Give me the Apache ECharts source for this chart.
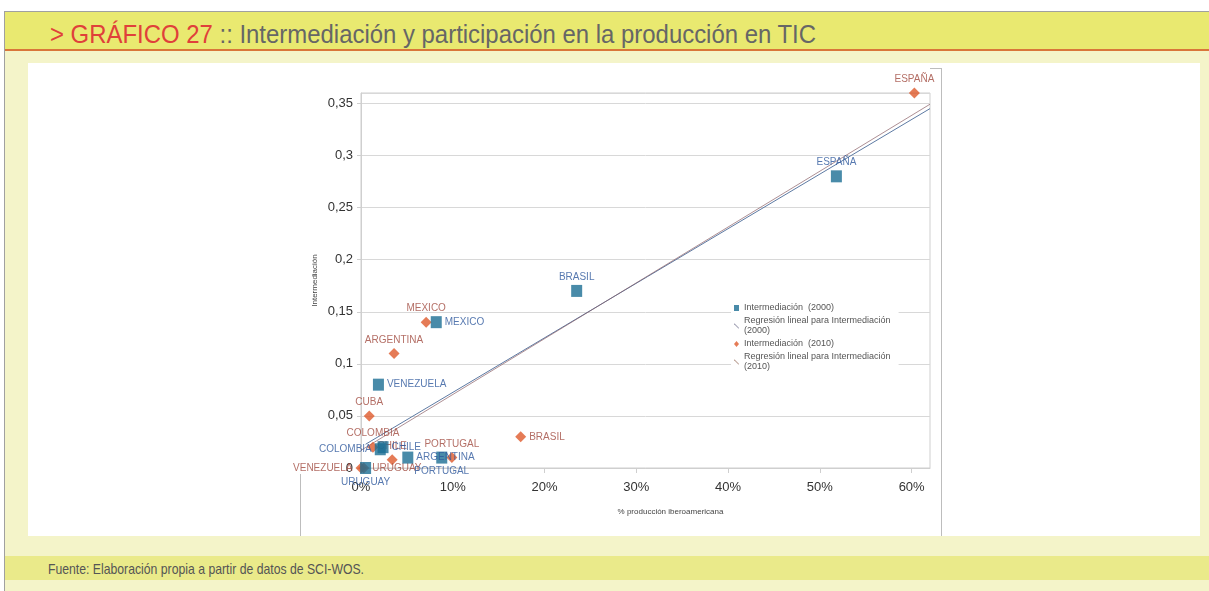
<!DOCTYPE html>
<html>
<head>
<meta charset="utf-8">
<script src="https://cdn.jsdelivr.net/npm/echarts@6/dist/echarts.min.js"></script>
<style>
  body { margin: 0; background: #fff; width: 1209px; height: 591px; overflow: hidden; position: relative; font-family: 'Liberation Sans', sans-serif; }
  .topline { position: absolute; left: 4px; top: 11px; width: 1205px; height: 1px; background: #a0a0a0; }
  .leftline { position: absolute; left: 4px; top: 11px; width: 1px; height: 580px; background: #a0a0a0; }
  .titlebar { position: absolute; left: 5px; top: 12px; width: 1204px; height: 37px; background: #e9e970; border-bottom: 2px solid #d9763a; }
  .titlebar span.t { position: absolute; left: 45px; top: 7px; font-size: 26px; line-height: 30px; color: #666; white-space: nowrap; transform: scaleX(0.92); transform-origin: 0 0; }
  .titlebar .red { color: #e0403a; }
  .content { position: absolute; left: 5px; top: 51px; width: 1204px; height: 540px; background: #f4f4c9; }
  .panel { position: absolute; left: 28px; top: 63px; width: 1172px; height: 473px; background: #fff; }
  .footer { position: absolute; left: 5px; top: 556px; width: 1204px; height: 24px; background: #eaea8a; }
  .footer span { position: absolute; left: 43px; top: 4px; font-size: 15px; line-height: 17px; color: #555; white-space: nowrap; transform: scaleX(0.815); transform-origin: 0 0; }
  #chart { position: absolute; left: 0; top: 0; width: 1209px; height: 591px; }
</style>
</head>
<body>
<div class="content"></div>
<div class="panel"></div>
<div class="titlebar"><span class="t"><span class="red">&gt; GRÁFICO 27</span> :: Intermediación y participación en la producción en TIC</span></div>
<div class="footer"><span>Fuente: Elaboración propia a partir de datos de SCI-WOS.</span></div>
<div class="topline"></div>
<div class="leftline"></div>
<div id="chart"></div>
<script>
// Intermediación (2000)
const paises2000 = ['ESPAÑA', 'BRASIL', 'MEXICO', 'VENEZUELA', 'CHILE', 'COLOMBIA', 'ARGENTINA', 'PORTUGAL', 'URUGUAY'];
const produccion2000 = [0.518, 0.235, 0.082, 0.019, 0.024, 0.021, 0.051, 0.088, 0.005];
const intermediacion2000 = [0.28, 0.17, 0.14, 0.08, 0.02, 0.018, 0.01, 0.01, 0];
const etiquetas2000 = ['top', 'top', 'right', 'right', 'right', 'left', 'right', 'bottom', 'bottom'];

// Intermediación (2010)
const paises2010 = ['ESPAÑA', 'BRASIL', 'MEXICO', 'ARGENTINA', 'CUBA', 'COLOMBIA', 'CHILE', 'PORTUGAL', 'VENEZUELA', 'URUGUAY'];
const produccion2010 = [0.603, 0.174, 0.071, 0.036, 0.009, 0.013, 0.034, 0.099, 0.0, 0.003];
const intermediacion2010 = [0.36, 0.03, 0.14, 0.11, 0.05, 0.02, 0.008, 0.01, 0, 0];
const etiquetas2010 = ['top', 'right', 'top', 'top', 'top', 'top', 'top', 'top', 'left', 'right'];

const xMax = 0.62;
const yMax = 0.36;

// recta de mínimos cuadrados
const regresion = (xs, ys) => {
    const n = xs.length;
    const mx = xs.reduce((a, b) => a + b, 0) / n;
    const my = ys.reduce((a, b) => a + b, 0) / n;
    let sxy = 0, sxx = 0;
    xs.forEach((x, i) => { sxy += (x - mx) * (ys[i] - my); sxx += (x - mx) * (x - mx); });
    const b = sxy / sxx, a = my - b * mx;
    const x0 = Math.min(...xs);
    return [[x0, a + b * x0], [xMax, a + b * xMax]];
};

const puntos = (nombres, xs, ys, pos) => nombres.map((n, i) => ({
    name: n,
    value: [xs[i], ys[i]],
    label: {position: pos[i]}
}));

const chart = echarts.init(document.getElementById('chart'));

const labelBase = {show: true, formatter: '{b}', fontSize: 10, fontFamily: 'Liberation Sans', distance: 3};
const iconoRecta = 'path://M0,0L1.5,0L10,8.5L10,10L8.5,10L0,1.5Z';

const option = {
    animation: false,
    grid: {
        left: 361, right: 279, top: 93, bottom: 123,
        show: true, borderColor: '#cfcfcf', borderWidth: 1, backgroundColor: 'transparent'
    },
    xAxis: {
        type: 'value', min: 0, max: xMax, interval: 0.1,
        name: '% producción iberoamericana', nameLocation: 'middle', nameGap: 40,
        nameTextStyle: {fontSize: 8, color: '#444', padding: [0, 0, 0, 50], fontFamily: 'Liberation Sans'},
        axisLine: {show: true, lineStyle: {color: '#cfcfcf'}},
        axisTick: {show: true, length: 5, lineStyle: {color: '#cfcfcf'}},
        axisLabel: {
            fontSize: 13, color: '#333', margin: 13, fontFamily: 'Liberation Sans', showMaxLabel: false,
            formatter: v => Math.round(v * 100) + '%'
        },
        splitLine: {show: false}
    },
    yAxis: {
        type: 'value', min: 0, max: yMax, interval: 0.05,
        name: 'Intermediación', nameLocation: 'middle', nameGap: 42, nameRotate: 90,
        nameTextStyle: {fontSize: 8, color: '#444', fontFamily: 'Liberation Sans'},
        axisLine: {show: true, lineStyle: {color: '#cfcfcf'}},
        axisTick: {show: true, length: 4, lineStyle: {color: '#cfcfcf'}},
        axisLabel: {
            fontSize: 13, color: '#333', margin: 8, fontFamily: 'Liberation Sans', showMaxLabel: false,
            formatter: v => String(+v.toFixed(2)).replace('.', ',')
        },
        splitLine: {show: true, lineStyle: {color: '#d8d8d8'}}
    },
    legend: {
        orient: 'vertical', left: 731, top: 300, itemGap: 3, itemWidth: 5, itemHeight: 6,
        backgroundColor: '#fff', padding: [3, 8, 3, 3],
        textStyle: {fontSize: 9, color: '#555', lineHeight: 10, fontFamily: 'Liberation Sans'},
        data: [
            {name: 'Intermediación  (2000)', icon: 'rect'},
            {name: 'Regresión lineal para Intermediación\n(2000)', icon: iconoRecta},
            {name: 'Intermediación  (2010)', icon: 'diamond'},
            {name: 'Regresión lineal para Intermediación\n(2010)', icon: iconoRecta}
        ]
    },
    series: [
        {
            name: 'Regresión lineal para Intermediación\n(2000)', type: 'line',
            data: regresion(produccion2000, intermediacion2000),
            symbol: 'none', color: '#a9a9bb', lineStyle: {color: '#5d7aa3', width: 1}, z: 1
        },
        {
            name: 'Regresión lineal para Intermediación\n(2010)', type: 'line',
            data: regresion(produccion2010, intermediacion2010),
            symbol: 'none', color: '#c2aaa0', lineStyle: {color: '#8a5f66', width: 1, opacity: 0.7}, z: 1
        },
        {
            name: 'Intermediación  (2010)', type: 'scatter',
            data: puntos(paises2010, produccion2010, intermediacion2010, etiquetas2010),
            symbol: 'diamond', symbolSize: 11, itemStyle: {color: '#df5a2c'},
            label: Object.assign({}, labelBase, {color: '#a04a3e'}), z: 3
        },
        {
            name: 'Intermediación  (2000)', type: 'scatter',
            data: puntos(paises2000, produccion2000, intermediacion2000, etiquetas2000),
            symbol: 'rect', symbolSize: [11, 12], itemStyle: {color: '#1c6e93'},
            label: Object.assign({}, labelBase, {color: '#2d579c'}), z: 4
        }
    ],
    graphic: [
        {type: 'line', shape: {x1: 941.5, y1: 68, x2: 941.5, y2: 536}, style: {stroke: '#bdbdbd', lineWidth: 1}},
        {type: 'line', shape: {x1: 930, y1: 68.5, x2: 942, y2: 68.5}, style: {stroke: '#bdbdbd', lineWidth: 1}},
        {type: 'line', shape: {x1: 300.5, y1: 474, x2: 300.5, y2: 536}, style: {stroke: '#bdbdbd', lineWidth: 1}}
    ]
};

chart.setOption(option);
</script>
</body>
</html>
